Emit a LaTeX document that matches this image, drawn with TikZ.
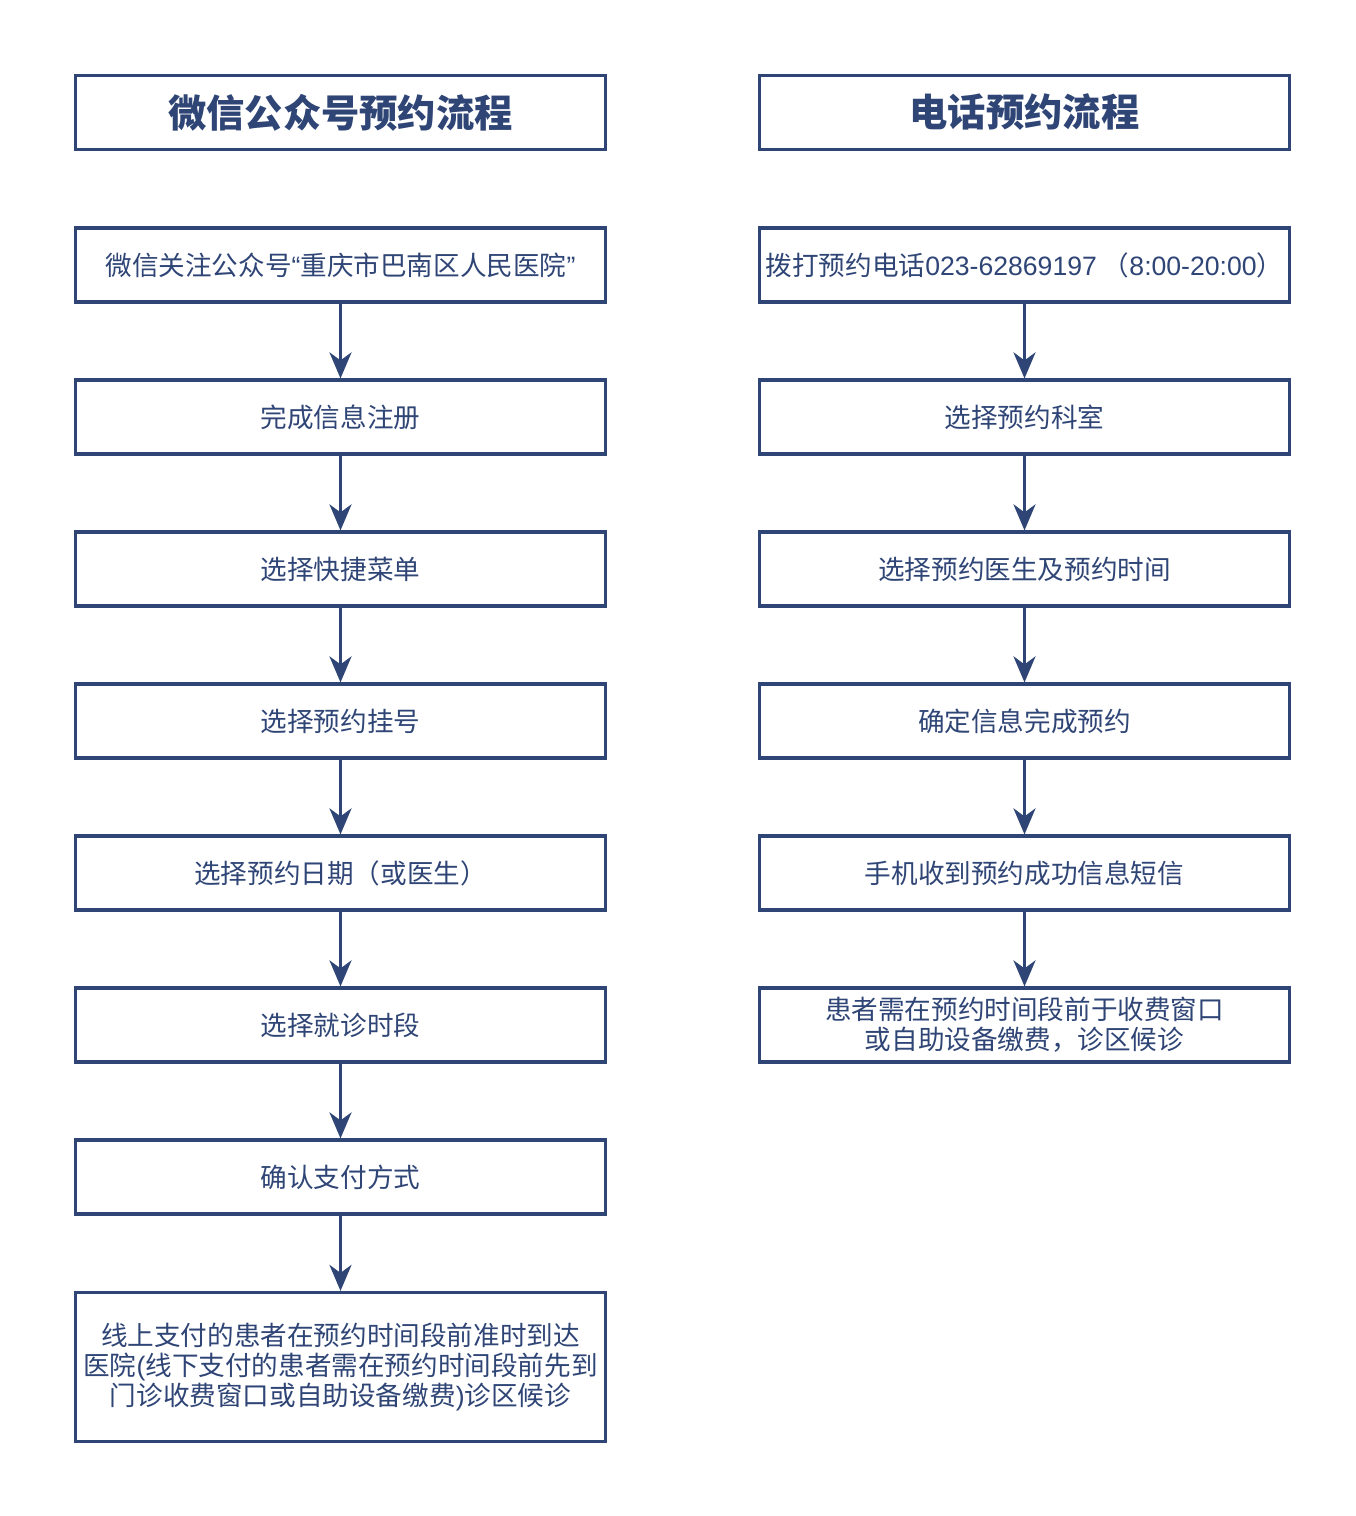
\documentclass[tikz,border=0pt]{standalone}
\usepackage{fontspec}
\newfontfamily\cjk{Noto Sans CJK SC}
\newfontfamily\lat{Liberation Sans}
\usetikzlibrary{arrows.meta}
\definecolor{nv}{HTML}{2F4576}
\begin{document}
\begin{tikzpicture}[x=1pt,y=-1pt,
  box/.style={draw=nv, line width=3.2pt, minimum width=530pt, minimum height=74pt, inner sep=0pt, text=nv, font=\cjk\fontsize{26.6}{30}\selectfont, align=center},
  ttl/.style={box, font=\cjk\bfseries\fontsize{38.3}{44}\selectfont},
  arr/.style={draw=nv, line width=3.2pt, -{Stealth[length=26pt,width=22pt,inset=8pt]}}]
\useasboundingbox[fill=white] (0,0) rectangle (1356,1516);
% left column
\node[ttl] (t1) at (340.5,112.5) {微信公众号预约流程};
\node[box] (a1) at (340.5,265) {微信关注公众号{\lat “}重庆市巴南区人民医院{\lat ”}};
\node[box] (a2) at (340.5,417) {完成信息注册};
\node[box] (a3) at (340.5,569) {选择快捷菜单};
\node[box] (a4) at (340.5,721) {选择预约挂号};
\node[box] (a5) at (340.5,873) {选择预约日期（或医生）};
\node[box] (a6) at (340.5,1025) {选择就诊时段};
\node[box] (a7) at (340.5,1177) {确认支付方式};
\node[box, minimum height=149pt] (a8) at (340.5,1367) {线上支付的患者在预约时间段前准时到达\\医院{\lat (}线下支付的患者需在预约时间段前先到\\门诊收费窗口或自助设备缴费{\lat )}诊区候诊};
% right column
\node[ttl] (t2) at (1024.5,112.5) {电话预约流程};
\node[box] (b1) at (1024.5,265) {拨打预约电话{\lat 023-62869197} （{\lat 8:00-20:00}）};
\node[box] (b2) at (1024.5,417) {选择预约科室};
\node[box] (b3) at (1024.5,569) {选择预约医生及预约时间};
\node[box] (b4) at (1024.5,721) {确定信息完成预约};
\node[box] (b5) at (1024.5,873) {手机收到预约成功信息短信};
\node[box] (b6) at (1024.5,1025) {患者需在预约时间段前于收费窗口\\或自助设备缴费，诊区候诊};
% arrows
\foreach \p/\q in {a1/a2,a2/a3,a3/a4,a4/a5,a5/a6,a6/a7,a7/a8,b1/b2,b2/b3,b3/b4,b4/b5,b5/b6}
  \draw[arr] (\p.south) -- (\q.north);
\end{tikzpicture}
\end{document}
